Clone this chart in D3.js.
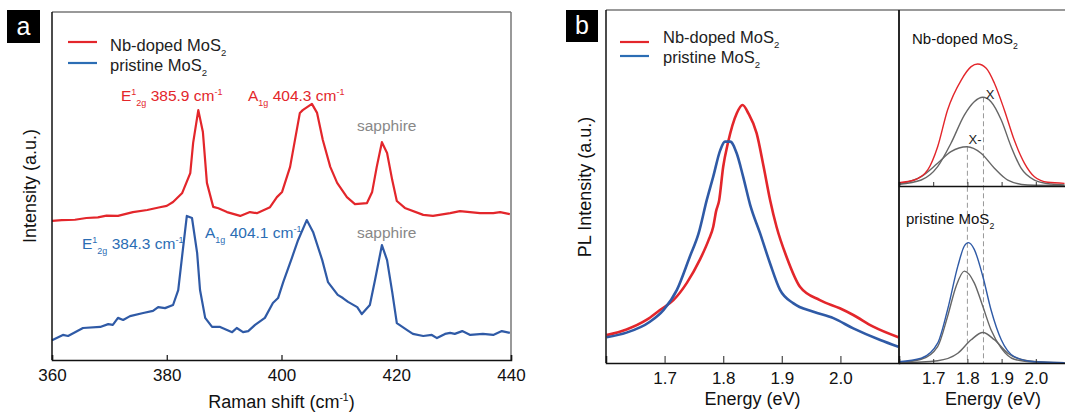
<!DOCTYPE html>
<html>
<head>
<meta charset="utf-8">
<script src="https://cdn.jsdelivr.net/npm/d3@7"></script>
<style>
  html, body { margin: 0; padding: 0; background: #fff; }
  svg { display: block; font-family: "Liberation Sans", Arial, sans-serif; }
</style>
</head>
<body>
<svg id="chart" width="1065" height="415"></svg>
<script>
// ---------- Raman spectra (panel a): [Raman shift cm^-1, intensity a.u.] ----------
const ramanNb = [
  [360.0,40.0],[361.7,40.2],[364.0,40.3],[366.0,40.8],[368.0,41.0],[369.5,41.5],[371.5,41.4],[374.1,42.5],
  [376.6,43.1],[378.8,43.9],[380.0,44.3],[381.1,45.4],[382.7,48.0],[384.1,53.7],[384.6,62.4],[385.5,71.8],
  [386.3,65.5],[387.0,50.9],[388.1,44.0],[389.0,43.6],[390.5,42.5],[392.8,41.4],[394.5,42.5],[395.7,42.2],
  [398.0,43.9],[399.2,46.8],[400.1,48.3],[401.5,55.5],[403.2,71.0],[403.7,71.8],[405.3,73.6],[406.2,71.0],
  [407.2,63.2],[408.5,55.5],[409.7,50.9],[411.4,46.8],[412.8,44.8],[414.9,45.1],[415.8,48.3],[416.6,55.5],
  [417.5,62.6],[418.4,59.5],[419.3,51.7],[420.1,45.7],[421.5,43.7],[424.7,41.7],[426.4,41.4],[429.4,42.2],
  [431.1,42.8],[434.6,42.2],[436.9,42.2],[438.1,42.5],[439.8,41.9]
];
const ramanPristine = [
  [360.0,5.7],[361.9,7.2],[362.8,6.9],[365.4,9.2],[368.4,9.5],[369.8,10.3],[370.6,10.1],[371.5,12.1],
  [372.4,11.5],[373.6,12.6],[375.9,13.5],[377.6,14.1],[378.5,15.2],[379.7,14.9],[381.1,15.8],[382.0,20.1],
  [382.8,31.6],[383.5,41.4],[384.4,40.8],[385.3,30.7],[385.8,20.1],[386.7,12.1],[387.9,9.5],[389.3,9.5],
  [391.4,8.0],[392.2,9.2],[393.3,8.0],[394.2,8.3],[395.4,10.1],[397.1,12.1],[398.5,16.4],[399.4,17.8],
  [400.3,22.4],[401.8,29.3],[402.9,34.5],[404.4,40.2],[405.5,36.8],[407.1,28.7],[408.1,22.4],[409.8,18.7],
  [410.7,17.8],[411.6,16.7],[413.2,15.2],[414.0,13.2],[415.4,15.8],[416.3,23.0],[417.5,33.0],[418.4,28.7],
  [419.3,19.5],[420.1,10.6],[421.9,8.6],[422.9,7.5],[424.7,6.9],[426.2,7.2],[427.1,6.3],[428.5,7.5],
  [429.4,7.8],[430.2,7.5],[431.5,8.3],[432.9,7.2],[435.1,7.5],[436.9,7.2],[438.4,8.3],[439.8,7.8]
];
const ramanTicks = [360, 380, 400, 420, 440];

// ---------- PL spectra (panel b): [energy eV, intensity a.u.] ----------
const plNb = [
  [1.601,7.9],[1.635,9.5],[1.669,12.2],[1.692,15.0],[1.715,17.8],[1.738,22.7],[1.760,29.2],[1.775,34.8],
  [1.783,38.6],[1.788,43.1],[1.793,46.0],[1.800,55.6],[1.808,62.3],[1.823,70.7],[1.833,73.1],[1.843,70.7],
  [1.857,65.1],[1.869,55.6],[1.880,46.2],[1.891,38.6],[1.908,30.1],[1.931,21.6],[1.965,17.8],[1.999,15.5],
  [2.022,13.6],[2.056,10.3],[2.099,7.3]
];
const plPristine = [
  [1.601,7.3],[1.635,8.6],[1.675,11.7],[1.698,15.0],[1.721,20.7],[1.743,30.1],[1.758,36.7],[1.772,46.2],
  [1.783,52.8],[1.795,60.3],[1.803,62.7],[1.812,62.7],[1.823,59.4],[1.834,52.8],[1.846,44.8],[1.863,36.7],
  [1.880,28.2],[1.897,20.7],[1.920,16.9],[1.954,14.5],[1.988,12.7],[2.022,9.8],[2.068,6.5],[2.099,4.6]
];
const plTicks = [1.7, 1.8, 1.9, 2.0];

// ---------- PL peak fits (insets) ----------
const fitNbTotal = [
  [1.600,1.9],[1.645,3.4],[1.684,9.1],[1.713,22.3],[1.742,43.2],[1.782,60.2],[1.811,67.8],[1.830,69.3],
  [1.855,66.9],[1.879,58.4],[1.908,43.2],[1.937,26.1],[1.967,12.9],[1.996,5.3],[2.035,2.1],[2.084,1.5]
];
const fitNbX = [
  [1.600,1.0],[1.665,3.4],[1.713,11.0],[1.752,24.3],[1.791,40.3],[1.820,47.9],[1.845,50.4],[1.869,47.9],
  [1.899,37.5],[1.928,22.3],[1.957,10.1],[1.996,3.4],[2.045,1.1],[2.084,0.6]
];
const fitNbTrion = [
  [1.600,1.1],[1.665,5.3],[1.713,12.9],[1.752,19.5],[1.799,22.3],[1.840,18.6],[1.879,10.1],[1.918,3.4],
  [1.976,0.6],[2.084,0.3]
];
const fitPrTotal = [
  [1.600,0.7],[1.665,2.7],[1.713,11.2],[1.742,30.1],[1.772,54.7],[1.791,66.1],[1.803,68.0],[1.820,64.2],
  [1.845,49.0],[1.869,30.1],[1.899,13.1],[1.937,3.6],[1.996,0.7],[2.084,0.2]
];
const fitPrTrion = [
  [1.600,0.3],[1.665,2.1],[1.713,9.3],[1.742,26.3],[1.767,43.4],[1.791,51.9],[1.820,45.3],[1.845,32.0],
  [1.869,18.8],[1.899,8.4],[1.937,2.1],[1.996,0.5],[2.084,0.1]
];
const fitPrX = [
  [1.600,0.1],[1.713,1.3],[1.772,5.5],[1.811,13.1],[1.845,17.2],[1.879,13.1],[1.918,5.5],[1.976,1.3],[2.084,0.1]
];
const peakCenters = [1.800, 1.847];   // trion X- and exciton X positions
const insetTicks = [1.7, 1.8, 1.9, 2.0];

// ---------- styling ----------
const RED = "#e3262b", BLUE = "#2f5aa6", BLUE_TXT = "#2b6db4", GRAY = "#666", FRAME_GRAY = "#777";

const svg = d3.select("#chart");

function frameLine(x1, y1, x2, y2, color, w) {
  svg.append("line").attr("x1", x1).attr("y1", y1).attr("x2", x2).attr("y2", y2)
    .attr("stroke", color).attr("stroke-width", w || 1.3);
}
function panelTag(x, y, s, label) {
  svg.append("rect").attr("x", x).attr("y", y).attr("width", s).attr("height", s).attr("fill", "#000");
  svg.append("text").attr("x", x + s / 2).attr("y", y + s / 2 + 8).attr("text-anchor", "middle")
    .attr("fill", "#fff").attr("font-size", 25).text(label);
}
// text with subscript / superscript parts: parts = [[text, "n"|"sub"|"sup"]]
function richText(g, x, y, parts, size, color, anchor) {
  const t = g.append("text").attr("x", x).attr("y", y).attr("font-size", size).attr("fill", color)
    .attr("text-anchor", anchor || "start");
  let shift = 0;
  parts.forEach(([s, kind]) => {
    const target = kind === "sub" ? size * 0.3 : kind === "sup" ? -size * 0.38 : 0;
    t.append("tspan").attr("dy", target - shift).attr("font-size", kind === "n" ? size : size * 0.58).text(s);
    shift = target;
  });
  return t;
}

// ================= Panel a =================
const A = { l: 52, r: 511, t: 12, b: 360 };
const xa = d3.scaleLinear().domain([360, 440]).range([A.l, A.r]);
const ya = d3.scaleLinear().domain([0, 100]).range([A.b, A.t]);
const lineA = d3.line().x(d => xa(d[0])).y(d => ya(d[1]));

svg.append("path").datum(ramanNb).attr("d", lineA).attr("fill", "none").attr("stroke", RED)
  .attr("stroke-width", 2.2).attr("stroke-linejoin", "round");
svg.append("path").datum(ramanPristine).attr("d", lineA).attr("fill", "none").attr("stroke", BLUE)
  .attr("stroke-width", 2.2).attr("stroke-linejoin", "round");

frameLine(A.l, A.t, A.r, A.t, FRAME_GRAY, 1.5);
frameLine(A.r, A.t, A.r, A.b, FRAME_GRAY, 1.5);
frameLine(A.l, A.t, A.l, A.b, "#111", 1.5);
const axA = svg.append("g").attr("transform", `translate(0,${A.b})`)
  .call(d3.axisBottom(xa).tickValues(ramanTicks).tickSize(-5).tickPadding(10).tickFormat(d3.format("d")));
axA.select(".domain").attr("stroke", "#111").attr("stroke-width", 1.5);
axA.selectAll(".tick line").attr("stroke", "#111").attr("stroke-width", 1.2);
axA.selectAll(".tick text").attr("font-size", 17).attr("fill", "#111").attr("font-family", "Liberation Sans, Arial")
  .attr("dy", "0.62em");

richText(svg, (A.l + A.r) / 2, 408, [["Raman shift (cm", "n"], ["-1", "sup"], [")", "n"]], 18, "#111", "middle");
svg.append("text").attr("transform", `translate(36,186) rotate(-90)`).attr("text-anchor", "middle")
  .attr("font-size", 18).attr("fill", "#111").text("Intensity (a.u.)");

panelTag(7, 10, 33, "a");

// legend a
const legA = svg.append("g");
[[RED, "Nb-doped MoS", 42, 51], [BLUE_TXT, "pristine MoS", 63, 71]].forEach(([c, s, ly, ty]) => {
  legA.append("line").attr("x1", 68).attr("x2", 97).attr("y1", ly).attr("y2", ly).attr("stroke", c).attr("stroke-width", 2.2);
  richText(legA, 110, ty, [[s, "n"], ["2", "sub"]], 16.5, "#222");
});

// peak annotations a
richText(svg, 121, 101, [["E", "n"], ["1", "sup"], ["2g", "sub"], [" 385.9 cm", "n"], ["-1", "sup"]], 15.5, RED);
richText(svg, 248, 101, [["A", "n"], ["1g", "sub"], [" 404.3 cm", "n"], ["-1", "sup"]], 15.5, RED);
svg.append("text").attr("x", 357).attr("y", 131).attr("font-size", 15.5).attr("fill", "#888").text("sapphire");
richText(svg, 82, 249, [["E", "n"], ["1", "sup"], ["2g", "sub"], [" 384.3 cm", "n"], ["-1", "sup"]], 15.5, BLUE_TXT);
richText(svg, 205, 238, [["A", "n"], ["1g", "sub"], [" 404.1 cm", "n"], ["-1", "sup"]], 15.5, BLUE_TXT);
svg.append("text").attr("x", 357).attr("y", 238).attr("font-size", 15.5).attr("fill", "#888").text("sapphire");

// ================= Panel b (main) =================
const B = { l: 606, r: 899, t: 10, b: 363 };
const xb = d3.scaleLinear().domain([1.6, 2.1]).range([B.l, B.r]);
const yb = d3.scaleLinear().domain([0, 100]).range([B.b, B.t]);
const lineB = d3.line().x(d => xb(d[0])).y(d => yb(d[1])).curve(d3.curveMonotoneX);

svg.append("path").datum(plNb).attr("d", lineB).attr("fill", "none").attr("stroke", RED).attr("stroke-width", 2.6);
svg.append("path").datum(plPristine).attr("d", lineB).attr("fill", "none").attr("stroke", BLUE).attr("stroke-width", 2.6);

frameLine(B.l, B.t, B.r, B.t, FRAME_GRAY, 1.5);
frameLine(B.l, B.t, B.l, B.b, "#111", 1.5);
const axB = svg.append("g").attr("transform", `translate(0,${B.b})`)
  .call(d3.axisBottom(xb).tickValues(plTicks).tickSize(-7).tickPadding(10).tickFormat(d3.format(".1f")));
axB.select(".domain").attr("stroke", "#111").attr("stroke-width", 1.5);
axB.selectAll(".tick line").attr("stroke", "#555").attr("stroke-width", 1.3);
axB.selectAll(".tick text").attr("font-size", 17).attr("fill", "#111").attr("font-family", "Liberation Sans, Arial")
  .attr("dy", "0.62em");
svg.append("text").attr("x", (B.l + B.r) / 2).attr("y", 405).attr("text-anchor", "middle")
  .attr("font-size", 18).attr("fill", "#111").text("Energy (eV)");
svg.append("text").attr("transform", `translate(591,187) rotate(-90)`).attr("text-anchor", "middle")
  .attr("font-size", 18).attr("fill", "#111").text("PL Intensity (a.u.)");

panelTag(566, 10, 32, "b");

const legB = svg.append("g");
[[RED, "Nb-doped MoS", 42, 43], [BLUE_TXT, "pristine MoS", 56, 63]].forEach(([c, s, ly, ty]) => {
  legB.append("line").attr("x1", 620).attr("x2", 649).attr("y1", ly).attr("y2", ly).attr("stroke", c).attr("stroke-width", 2.2);
  richText(legB, 663, ty, [[s, "n"], ["2", "sub"]], 16.5, "#222");
});

// ================= Insets (peak fits) =================
const I = { l: 899, r: 1070, t1: 10, b1: 186, t2: 186, b2: 363 };
const xi = d3.scaleLinear().domain([1.6, 2.1]).range([I.l, I.r]);
const yi1 = d3.scaleLinear().domain([0, 100]).range([I.b1, I.t1]);
const yi2 = d3.scaleLinear().domain([0, 100]).range([I.b2, I.t2]);
const lineI1 = d3.line().x(d => xi(d[0])).y(d => yi1(d[1])).curve(d3.curveMonotoneX);
const lineI2 = d3.line().x(d => xi(d[0])).y(d => yi2(d[1])).curve(d3.curveMonotoneX);

// dashed guide lines at component centres
svg.append("line").attr("x1", xi(peakCenters[0])).attr("x2", xi(peakCenters[0]))
  .attr("y1", yi1(22.3)).attr("y2", I.b2).attr("stroke", "#999").attr("stroke-width", 1).attr("stroke-dasharray", "5,3");
svg.append("line").attr("x1", xi(peakCenters[1])).attr("x2", xi(peakCenters[1]))
  .attr("y1", yi1(50.4)).attr("y2", I.b2).attr("stroke", "#999").attr("stroke-width", 1).attr("stroke-dasharray", "5,3");

[[fitNbX, GRAY], [fitNbTrion, GRAY], [fitNbTotal, RED]].forEach(([d, c]) => {
  svg.append("path").datum(d).attr("d", lineI1).attr("fill", "none").attr("stroke", c).attr("stroke-width", 1.4);
});
[[fitPrTrion, GRAY], [fitPrX, GRAY], [fitPrTotal, BLUE]].forEach(([d, c]) => {
  svg.append("path").datum(d).attr("d", lineI2).attr("fill", "none").attr("stroke", c).attr("stroke-width", 1.4);
});

frameLine(I.l, I.t1, 1065, I.t1, FRAME_GRAY, 1.5);
frameLine(I.l, I.t1, I.l, I.b2, "#111", 1.8);
const axI1 = svg.append("g").attr("transform", `translate(0,${I.b1})`)
  .call(d3.axisBottom(xi).tickValues(insetTicks).tickSize(-4).tickFormat(""));
axI1.select(".domain").attr("stroke", "#111").attr("stroke-width", 1.6);
axI1.selectAll(".tick line").attr("stroke", "#333");
const axI2 = svg.append("g").attr("transform", `translate(0,${I.b2})`)
  .call(d3.axisBottom(xi).tickValues(insetTicks).tickSize(-4).tickPadding(10).tickFormat(d3.format(".1f")));
axI2.select(".domain").attr("stroke", "#111").attr("stroke-width", 1.5);
axI2.selectAll(".tick line").attr("stroke", "#333");
axI2.selectAll(".tick text").attr("font-size", 17).attr("fill", "#111").attr("font-family", "Liberation Sans, Arial")
  .attr("dy", "0.62em");
svg.append("text").attr("x", 993).attr("y", 405).attr("text-anchor", "middle")
  .attr("font-size", 18).attr("fill", "#111").text("Energy (eV)");

richText(svg, 912, 44, [["Nb-doped MoS", "n"], ["2", "sub"]], 15, "#111");
richText(svg, 906, 224, [["pristine MoS", "n"], ["2", "sub"]], 15, "#111");
svg.append("text").attr("x", 990).attr("y", 99).attr("text-anchor", "middle").attr("font-size", 13).attr("fill", "#222").text("X");
svg.append("text").attr("x", 975).attr("y", 144).attr("text-anchor", "middle").attr("font-size", 13).attr("fill", "#222").text("X-");
</script>
</body>
</html>
